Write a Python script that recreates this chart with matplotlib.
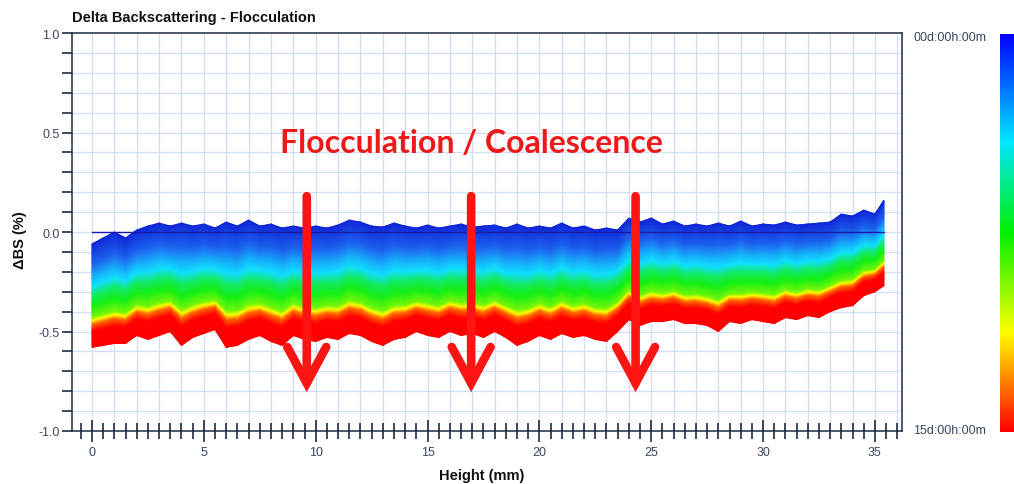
import numpy as np
import matplotlib
matplotlib.use('Agg')
import matplotlib.pyplot as plt
from matplotlib.colors import LinearSegmentedColormap
from matplotlib.ticker import MultipleLocator, FormatStrFormatter

plt.rcParams['font.family'] = ['Liberation Sans', 'DejaVu Sans']
plt.rcParams['axes.unicode_minus'] = False

# sample positions along the cell (mm)
heights = [0.0, 0.5, 1.0, 1.5, 2.0, 2.5, 3.0, 3.5, 4.0, 4.5,
           5.0, 5.5, 6.0, 6.5, 7.0, 7.5, 8.0, 8.5, 9.0, 9.5,
           10.0, 10.5, 11.0, 11.5, 12.0, 12.5, 13.0, 13.5, 14.0, 14.5,
           15.0, 15.5, 16.0, 16.5, 17.0, 17.5, 18.0, 18.5, 19.0, 19.5,
           20.0, 20.5, 21.0, 21.5, 22.0, 22.5, 23.0, 23.5, 24.0, 24.5,
           25.0, 25.5, 26.0, 26.5, 27.0, 27.5, 28.0, 28.5, 29.0, 29.5,
           30.0, 30.5, 31.0, 31.5, 32.0, 32.5, 33.0, 33.5, 34.0, 34.5,
           35.0, 35.4]

# upper edge of the bundle of curves (early scans, blue)
top_edge = [-0.06, -0.03, 0.00, -0.03, 0.01, 0.03, 0.045, 0.03, 0.045, 0.03,
            0.04, 0.02, 0.05, 0.03, 0.06, 0.03, 0.04, 0.02, 0.03, 0.02,
            0.03, 0.02, 0.035, 0.06, 0.05, 0.03, 0.025, 0.045, 0.03, 0.02,
            0.035, 0.02, 0.03, 0.04, 0.025, 0.03, 0.035, 0.02, 0.04, 0.02,
            0.03, 0.02, 0.045, 0.02, 0.03, 0.01, 0.02, 0.01, 0.07, 0.05,
            0.07, 0.04, 0.055, 0.03, 0.04, 0.03, 0.045, 0.03, 0.055, 0.03,
            0.04, 0.035, 0.05, 0.035, 0.04, 0.045, 0.05, 0.09, 0.08, 0.11,
            0.09, 0.16]

# lower edge of the bundle (last scans, red)
bottom_edge = [-0.58, -0.57, -0.56, -0.56, -0.52, -0.54, -0.52, -0.50, -0.57, -0.53,
               -0.51, -0.49, -0.58, -0.57, -0.54, -0.52, -0.55, -0.57, -0.52, -0.54,
               -0.55, -0.53, -0.54, -0.51, -0.52, -0.55, -0.57, -0.54, -0.53, -0.50,
               -0.52, -0.53, -0.50, -0.52, -0.51, -0.53, -0.50, -0.53, -0.57, -0.55,
               -0.52, -0.54, -0.51, -0.53, -0.52, -0.54, -0.55, -0.50, -0.44, -0.47,
               -0.45, -0.45, -0.44, -0.46, -0.46, -0.47, -0.50, -0.45, -0.46, -0.44,
               -0.45, -0.46, -0.43, -0.44, -0.42, -0.43, -0.40, -0.38, -0.37, -0.32,
               -0.30, -0.27]

# reference scan (t = 0) is flat at zero
ref_heights = [0.0, 35.4]
ref_delta = [0.0, 0.0]

# where each scan time sits inside the bundle (0 = top edge, 1 = bottom edge)
depth_knots = [0.0, 0.19, 0.31, 0.41, 0.50, 0.60, 0.71, 0.745, 0.78, 0.85, 1.0]
time_knots = [0.0, 0.10, 0.20, 0.27, 0.42, 0.50, 0.60, 0.75, 0.90, 1.0, 1.0]

time_labels = ['00d:00h:00m', '15d:00h:00m']
arrow_x = [9.6, 16.95, 24.3]
arrow_top, arrow_tip = 0.18, -0.805

spine_col = '#1e2a44'
text_col = '#3a4660'
grid_col = '#d2def4'

cmap = LinearSegmentedColormap.from_list(
    'scan', [(0.0, '#1028d8'), (0.12, '#1e6cf2'), (0.27, '#10e0ff'), (0.5, '#14f014'),
             (0.75, '#ffff00'), (1.0, '#ff0000')])
bar_cmap = LinearSegmentedColormap.from_list(
    'bar', [(0.0, '#0000ff'), (0.27, '#00e8ff'), (0.5, '#00f000'),
            (0.75, '#ffff00'), (1.0, '#ff0000')])

fig = plt.figure(figsize=(10.14, 4.85), dpi=100)
ax = fig.add_axes([72 / 1014, 1 - 432 / 485, 830 / 1014, 398 / 485])

for gx in np.arange(0, 36.5, 1):
    ax.axvline(gx, color=grid_col, lw=0.9, zorder=0)
for gy in np.arange(-0.9, 0.95, 0.1):
    ax.axhline(gy, color=grid_col, lw=0.9, zorder=0)

h = np.array(heights)
top = np.array(top_edge)
bot = np.array(bottom_edge)
depth = np.linspace(0, 1, 90)
Y = top[None, :] + (bot - top)[None, :] * depth[:, None]
X = np.broadcast_to(h, Y.shape)
C = np.interp(depth, depth_knots, time_knots)[:, None] * np.ones_like(h)[None, :]
ax.pcolormesh(X, Y, C, cmap=cmap, vmin=0, vmax=1, shading='gouraud', zorder=2)

ax.plot(ref_heights, ref_delta, color='#1a1aa8', lw=1.0, zorder=3)

for x in arrow_x:
    ax.annotate('', xy=(x, arrow_tip), xytext=(x, arrow_top),
                arrowprops=dict(arrowstyle='->,head_length=1.3,head_width=0.7',
                                lw=6.2, color='#ff1414', mutation_scale=20,
                                shrinkA=0, shrinkB=0, capstyle='round',
                                joinstyle='miter'),
                zorder=5)

ax.text(16.95, 0.45, 'Flocculation / Coalescence', family=['Lato', 'DejaVu Sans'],
        weight='bold', size=23, color='#f01818', ha='center', va='center', zorder=6)

ax.set_xlim(-0.894, 36.21)
ax.set_ylim(-1.0, 1.0)
ax.xaxis.set_major_locator(MultipleLocator(5))
ax.xaxis.set_minor_locator(MultipleLocator(0.5))
ax.yaxis.set_major_locator(MultipleLocator(0.5))
ax.yaxis.set_minor_locator(MultipleLocator(0.1))
ax.yaxis.set_major_formatter(FormatStrFormatter('%.1f'))
ax.tick_params(axis='x', which='major', direction='inout', length=16, width=1.2,
               color=spine_col, labelcolor=text_col, labelsize=9, pad=3)
ax.tick_params(axis='x', which='minor', direction='inout', length=11, width=1.2,
               color=spine_col)
ax.tick_params(axis='y', which='both', direction='out', length=7, width=1.2,
               color=spine_col, labelcolor=text_col, labelsize=9, pad=2)
for s in ax.spines.values():
    s.set_color(spine_col)
    s.set_linewidth(1.1)

fig.text(72 / 1014, 1 - 18 / 485, 'Delta Backscattering - Flocculation',
         weight='bold', size=10.5, ha='left', va='center', color='#111111')
fig.text(20 / 1014, 1 - 240 / 485, '\u0394BS (%)', weight='bold', size=10.5,
         rotation=90, ha='center', va='center', color='#111111')
fig.text(482 / 1014, 1 - 476 / 485, 'Height (mm)', weight='bold', size=10.5,
         ha='center', va='center', color='#111111')

cax = fig.add_axes([1000 / 1014, 1 - 433 / 485, 14 / 1014, 398 / 485])
cax.imshow(np.linspace(0, 1, 256)[:, None], aspect='auto', cmap=bar_cmap)
cax.axis('off')
fig.text(913 / 1014, 1 - 38 / 485, time_labels[0], size=9, color=text_col,
         ha='left', va='center')
fig.text(913 / 1014, 1 - 431 / 485, time_labels[1], size=9, color=text_col,
         ha='left', va='center')

fig.savefig('out.png', dpi=100)
